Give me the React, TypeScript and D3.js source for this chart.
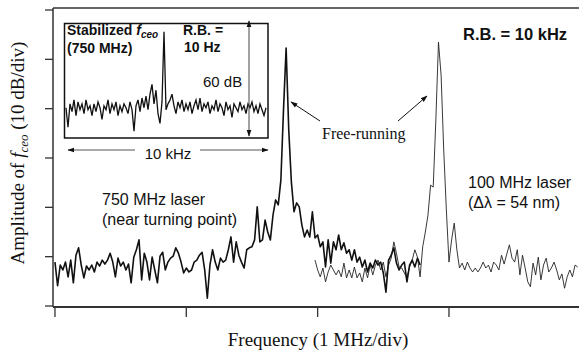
import React from 'react';
import * as d3 from 'd3';

// 750 MHz laser, free-running fceo (dB), f = 0 MHz + 0.02 MHz * i
const laser750Start = 0;
const laser750Step = 0.02;
const laser750 = [
  8.9, 4.1, 8.3, 7.3, 8.9, 5.9, 9.3, 4.7, 10.3, 11.8,
  8.3, 5.7, 8.1, 7.3, 8.3, 6.9, 8.9, 8.1, 9.3, 8.5,
  9.3, 10.7, 8.9, 5.9, 9.7, 8.1, 8.9, 7.3, 8.5, 4.7,
  9.9, 11.4, 13.4, 5.3, 10.7, 8.9, 5.3, 9.9, 7.3, 4.7,
  10.1, 10.9, 7.3, 8.9, 9.7, 10.1, 11.8, 10.7, 8.9, 6.7,
  7.7, 6.9, 7.3, 8.9, 9.3, 10.3, 10.9, 7.3, 1.6, 8.3,
  11.4, 8.9, 7.3, 9.7, 8.9, 9.3, 11.4, 14.0, 8.9, 13.0,
  10.3, 8.9, 7.7, 11.4, 11.8, 12.0, 13.4, 20.1, 13.0, 13.4,
  17.4, 15.0, 13.4, 18.4, 21.5, 20.5, 25.5, 39.7, 52.3, 35.7,
  25.1, 19.1, 20.9, 20.1, 16.4, 14.0, 15.4, 14.0, 19.1, 13.8,
  14.4, 12.0, 13.0, 7.9, 13.4, 8.7, 13.0, 11.4, 14.4, 11.4,
  12.8, 10.7, 11.4, 9.3, 11.4, 8.9, 9.9, 7.9, 9.3, 6.9,
  8.7, 7.7, 9.3, 8.3, 8.9, 6.7, 2.8, 9.3, 10.3, 11.8,
  8.7, 7.3, 8.3, 8.9, 4.9, 8.3, 9.3, 7.9, 9.7, 8.3,
];

// 100 MHz laser (dl = 54 nm), f = 1.98 MHz + 0.02 MHz * j
const laser100Start = 1.98;
const laser100Step = 0.02;
const laser100 = [
  9.3, 7.3, 5.9, 7.7, 4.9, 6.9, 8.3, 7.3, 6.3, 7.3,
  5.9, 8.7, 5.7, 7.3, 5.7, 7.9, 5.7, 6.7, 4.9, 7.7,
  5.7, 8.3, 6.3, 8.3, 9.3, 7.3, 8.9, 5.9, 8.3, 9.7,
  13.0, 10.7, 7.9, 7.7, 6.7, 5.7, 7.9, 9.3, 11.4, 9.9,
  5.9, 12.0, 15.0, 18.4, 24.5, 24.1, 37.7, 53.5, 46.8, 31.6,
  19.5, 8.9, 13.4, 16.8, 11.4, 7.7, 8.7, 7.3, 8.9, 7.7,
  6.9, 7.7, 6.9, 7.7, 8.9, 7.7, 8.3, 6.9, 8.9, 8.3,
  7.3, 10.3, 8.5, 10.5, 12.4, 9.7, 8.9, 11.4, 6.3, 10.3,
  7.7, 4.9, 3.9, 8.7, 6.3, 9.9, 5.3, 8.3, 9.7, 6.9,
  7.7, 8.9, 7.3, 5.3, 6.5, 3.6, 5.9, 7.3, 5.9, 8.3,
  7.9,
];

// inset: stabilized fceo, R.B. = 10 Hz, f = -5 kHz + 0.1 kHz * k
const insetStart = -5;
const insetStep = 0.1;
const inset = [
  15, 5, 17, 13, 19, 11, 18, 14, 17, 12,
  19, 14, 16, 11, 17, 13, 18, 15, 9, 16,
  14, 19, 12, 17, 14, 18, 11, 16, 13, 17,
  15, 12, 18, 14, 3, 16, 19, 13, 20, 15,
  21, 14, 22, 27, 17, 24, 12, 7, 18, 54,
  14, 17, 19, 22, 16, 12, 18, 15, 19, 13,
  17, 14, 18, 12, 16, 19, 14, 20, 13, 17,
  15, 18, 12, 16, 14, 19, 13, 17, 15, 11,
  18, 14, 16, 10, 17, 15, 13, 18, 14, 16,
  12, 17, 15, 18, 13, 16, 12, 17, 14, 11,
  15,
];

const xTicks = [0, 1, 2, 3];
const yTicks = [0, 10, 20, 30, 40, 50, 60];

const W = 579;
const H = 354;
const sans = '"Liberation Sans", Arial, sans-serif';
const serif = '"Liberation Serif", "Times New Roman", serif';

const toPoints = (vals: number[], start: number, step: number) =>
  vals.map((v, i) => [start + step * i, v] as [number, number]);

export default function App() {
  const x = d3.scaleLinear().domain([-0.015, 3.99]).range([53, 579]);
  const y = d3.scaleLinear().domain([0, 60]).range([306, 10]);
  const ix = d3.scaleLinear().domain([-5, 5]).range([66, 266]);
  const iy = d3.scaleLinear().domain([0, 60]).range([137, 20]);

  const line = d3.line<[number, number]>().x(d => x(d[0])).y(d => y(d[1]));
  const insetLine = d3.line<[number, number]>().x(d => ix(d[0])).y(d => iy(d[1]));

  const axisColor = '#333';

  return (
    <svg width={W} height={H} style={{ position: 'absolute', left: 0, top: 0, background: '#fff' }}>
      <defs>
        <marker id="ah" viewBox="0 0 10 10" refX="9" refY="5" markerWidth="7" markerHeight="7" orient="auto-start-reverse">
          <path d="M0,1.5 L10,5 L0,8.5 Z" fill="#111" />
        </marker>
      </defs>

      {/* frame */}
      <line x1={53} x2={579} y1={8} y2={8} stroke={axisColor} strokeWidth={1.5} />
      <line x1={53} x2={53} y1={8} y2={307} stroke={axisColor} strokeWidth={1.5} />
      <line x1={53} x2={579} y1={307} y2={307} stroke={axisColor} strokeWidth={1.8} />
      {yTicks.map(t => (
        <line key={'y' + t} x1={45} x2={53} y1={y(t)} y2={y(t)} stroke={axisColor} strokeWidth={1.3} />
      ))}
      {xTicks.map(t => (
        <line key={'x' + t} x1={x(t)} x2={x(t)} y1={307} y2={317} stroke={axisColor} strokeWidth={1.3} />
      ))}

      {/* traces */}
      <path d={line(toPoints(laser100, laser100Start, laser100Step)) || ''} fill="none" stroke="#222" strokeWidth={0.9} />
      <path d={line(toPoints(laser750, laser750Start, laser750Step)) || ''} fill="none" stroke="#111" strokeWidth={1.6} strokeLinejoin="round" />

      {/* inset */}
      <rect x={64.5} y={23.5} width={203.5} height={114.5} fill="#fff" stroke="#111" strokeWidth={1.5} />
      <path d={insetLine(toPoints(inset, insetStart, insetStep)) || ''} fill="none" stroke="#111" strokeWidth={1.3} />
      <line x1={249} x2={249} y1={21} y2={136} stroke="#444" strokeWidth={1} markerStart="url(#ah)" markerEnd="url(#ah)" />
      <text x={203} y={87} fontFamily={sans} fontSize={15} fill="#111">60 dB</text>
      <text x={67} y={35} fontFamily={sans} fontSize={14} fontWeight="bold" fill="#111">
        Stabilized <tspan fontStyle="italic">f</tspan>
        <tspan fontStyle="italic" fontSize={10} dy={3}>ceo</tspan>
      </text>
      <text x={67} y={53} fontFamily={sans} fontSize={14} fontWeight="bold" fill="#111">(750 MHz)</text>
      <text x={183} y={35} fontFamily={sans} fontSize={14} fontWeight="bold" fill="#111">R.B. =</text>
      <text x={184} y={52} fontFamily={sans} fontSize={14} fontWeight="bold" fill="#111">10 Hz</text>

      <line x1={135} x2={68} y1={150} y2={150} stroke="#555" strokeWidth={1} markerEnd="url(#ah)" />
      <line x1={200} x2={268} y1={150} y2={150} stroke="#555" strokeWidth={1} markerEnd="url(#ah)" />
      <text x={168} y={159} textAnchor="middle" fontFamily={sans} fontSize={15} fill="#111">10 kHz</text>

      {/* annotations */}
      <text x={463} y={40} fontFamily={sans} fontSize={16.5} fontWeight="bold" fill="#111">R.B. = 10 kHz</text>
      <text x={322} y={139} fontFamily={serif} fontSize={16} fill="#111">Free-running</text>
      <line x1={320} y1={121} x2={291} y2={102} stroke="#111" strokeWidth={1} markerEnd="url(#ah)" />
      <line x1={398} y1={121} x2={427} y2={96} stroke="#111" strokeWidth={1} markerEnd="url(#ah)" />

      <text x={102} y={205} fontFamily={sans} fontSize={16} fill="#111">750 MHz laser</text>
      <text x={102} y={225} fontFamily={sans} fontSize={16} fill="#111">(near turning point)</text>
      <text x={468} y={188} fontFamily={sans} fontSize={16} fill="#111">100 MHz laser</text>
      <text x={468} y={208} fontFamily={sans} fontSize={16} fill="#111">(Δλ = 54 nm)</text>

      {/* axis titles */}
      <text x={318} y={346} textAnchor="middle" fontFamily={serif} fontSize={19} fill="#111">Frequency (1 MHz/div)</text>
      <text transform="translate(24,153) rotate(-90)" textAnchor="middle" fontFamily={serif} fontSize={19} fill="#111">
        Amplitude of <tspan fontStyle="italic">f</tspan>
        <tspan fontStyle="italic" fontSize={13} dy={4}>ceo</tspan>
        <tspan dy={-4}> (10 dB/div)</tspan>
      </text>
    </svg>
  );
}
